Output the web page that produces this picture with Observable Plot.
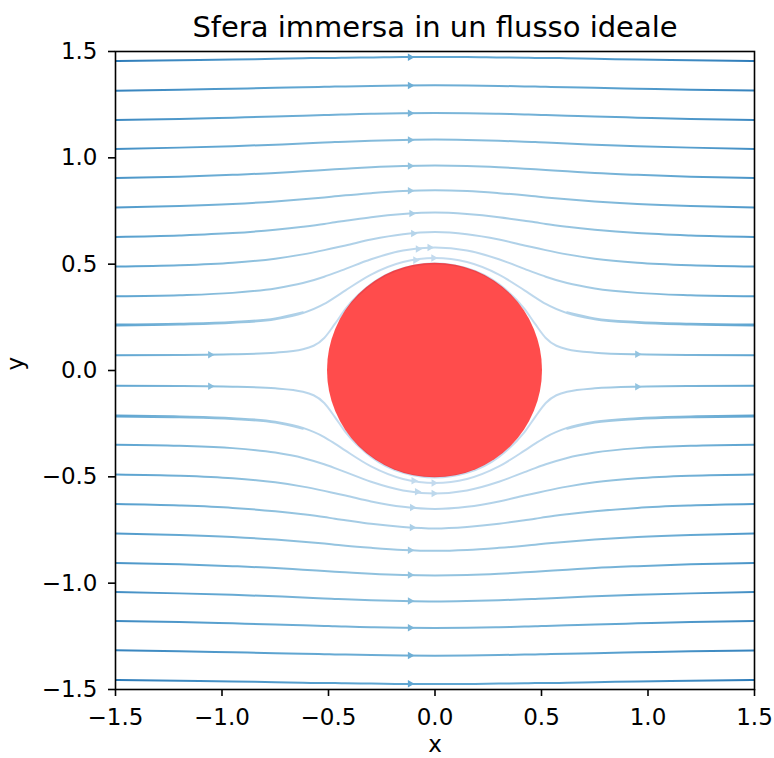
<!DOCTYPE html>
<html><head><meta charset="utf-8">
<script src="https://cdn.jsdelivr.net/npm/d3@7"></script>
<script src="https://cdn.jsdelivr.net/npm/@observablehq/plot@0.6"></script>
<style>html,body{margin:0;padding:0;background:#fff}svg{display:block}</style>
</head><body><div id="chart"></div>
<script>
// ---- data ----
const titleText = "Sfera immersa in un flusso ideale";
const xLabel = "x", yLabel = "y";
const tickValues = [-1.5, -1, -0.5, 0, 0.5, 1, 1.5];
const tickLabels = ["\u22121.5", "\u22121.0", "\u22120.5", "0.0", "0.5", "1.0", "1.5"];

// x positions where each streamline's height was read
const xKnots = [-1.5,-1.2,-0.95,-0.75,-0.62,-0.52,-0.47,-0.42,-0.3,-0.15,0,0.15,0.3,0.42,0.47,0.52,0.62,0.75,0.95,1.2,1.5];

// upper streamlines (y at each knot)
const streamTop = [
  [1.455,1.459,1.462,1.466,1.468,1.470,1.470,1.471,1.472,1.474,1.474,1.474,1.472,1.471,1.470,1.470,1.468,1.466,1.462,1.459,1.455],
  [1.316,1.320,1.325,1.329,1.332,1.334,1.335,1.336,1.338,1.340,1.341,1.340,1.338,1.336,1.335,1.334,1.332,1.329,1.325,1.320,1.316],
  [1.178,1.183,1.189,1.194,1.198,1.201,1.203,1.204,1.207,1.210,1.211,1.210,1.207,1.204,1.203,1.201,1.198,1.194,1.189,1.183,1.178],
  [1.042,1.048,1.055,1.062,1.067,1.072,1.074,1.076,1.080,1.084,1.086,1.084,1.080,1.076,1.074,1.072,1.067,1.062,1.055,1.048,1.042],
  [0.905,0.911,0.920,0.929,0.937,0.943,0.946,0.949,0.956,0.962,0.964,0.962,0.956,0.949,0.946,0.943,0.937,0.929,0.920,0.911,0.905],
  [0.766,0.773,0.783,0.795,0.805,0.814,0.819,0.824,0.834,0.844,0.848,0.844,0.834,0.824,0.819,0.814,0.805,0.795,0.783,0.773,0.766],
  [0.628,0.635,0.646,0.662,0.676,0.689,0.697,0.704,0.721,0.736,0.743,0.736,0.721,0.704,0.697,0.689,0.676,0.662,0.646,0.635,0.628],
  [0.489,0.495,0.507,0.526,0.546,0.566,0.577,0.588,0.616,0.641,0.651,0.641,0.616,0.588,0.577,0.566,0.546,0.526,0.507,0.495,0.489],
  [0.349,0.354,0.365,0.386,0.411,0.441,0.459,0.478,0.523,0.564,0.578,0.564,0.523,0.478,0.459,0.441,0.411,0.386,0.365,0.354,0.349],
  [0.212,0.216,0.224,0.241,0.270,0.313,0.344,0.377,0.451,0.510,0.529,0.510,0.451,0.377,0.344,0.313,0.270,0.241,0.224,0.216,0.212],
  [0.072,0.073,0.076,0.084,0.100,0.153,0.219,0.290,0.406,0.481,0.503,0.481,0.406,0.290,0.219,0.153,0.100,0.084,0.076,0.073,0.072]
];

// lower streamlines (y at each knot)
const streamBottom = [
  [-1.455,-1.459,-1.462,-1.466,-1.468,-1.470,-1.470,-1.471,-1.472,-1.474,-1.474,-1.474,-1.472,-1.471,-1.470,-1.470,-1.468,-1.466,-1.462,-1.459,-1.455],
  [-1.316,-1.320,-1.325,-1.329,-1.332,-1.334,-1.335,-1.336,-1.338,-1.340,-1.341,-1.340,-1.338,-1.336,-1.335,-1.334,-1.332,-1.329,-1.325,-1.320,-1.316],
  [-1.178,-1.183,-1.189,-1.194,-1.198,-1.201,-1.203,-1.204,-1.207,-1.210,-1.211,-1.210,-1.207,-1.204,-1.203,-1.201,-1.198,-1.194,-1.189,-1.183,-1.178],
  [-1.042,-1.048,-1.055,-1.062,-1.067,-1.072,-1.074,-1.076,-1.080,-1.084,-1.086,-1.084,-1.080,-1.076,-1.074,-1.072,-1.067,-1.062,-1.055,-1.048,-1.042],
  [-0.905,-0.911,-0.920,-0.929,-0.937,-0.943,-0.946,-0.949,-0.956,-0.962,-0.964,-0.962,-0.956,-0.949,-0.946,-0.943,-0.937,-0.929,-0.920,-0.911,-0.905],
  [-0.766,-0.773,-0.783,-0.795,-0.805,-0.814,-0.819,-0.824,-0.834,-0.844,-0.848,-0.844,-0.834,-0.824,-0.819,-0.814,-0.805,-0.795,-0.783,-0.773,-0.766],
  [-0.628,-0.635,-0.646,-0.662,-0.676,-0.689,-0.697,-0.704,-0.721,-0.736,-0.743,-0.736,-0.721,-0.704,-0.697,-0.689,-0.676,-0.662,-0.646,-0.635,-0.628],
  [-0.489,-0.495,-0.507,-0.526,-0.546,-0.566,-0.577,-0.588,-0.616,-0.641,-0.651,-0.641,-0.616,-0.588,-0.577,-0.566,-0.546,-0.526,-0.507,-0.495,-0.489],
  [-0.349,-0.354,-0.365,-0.386,-0.411,-0.441,-0.459,-0.478,-0.523,-0.564,-0.578,-0.564,-0.523,-0.478,-0.459,-0.441,-0.411,-0.386,-0.365,-0.354,-0.349],
  [-0.212,-0.216,-0.224,-0.241,-0.270,-0.313,-0.344,-0.377,-0.451,-0.510,-0.529,-0.510,-0.451,-0.377,-0.344,-0.313,-0.270,-0.241,-0.224,-0.216,-0.212],
  [-0.072,-0.073,-0.076,-0.084,-0.100,-0.153,-0.219,-0.290,-0.406,-0.481,-0.503,-0.481,-0.406,-0.290,-0.219,-0.153,-0.100,-0.084,-0.076,-0.073,-0.072]
];

// short overlapping trajectories (the doubled strands near y = ±0.21 at both edges)
const extraX = [
  [-1.5,-1.2,-0.95,-0.75,-0.62],
  [0.62,0.75,0.95,1.2,1.5],
  [-1.5,-1.2,-0.95,-0.75,-0.62],
  [0.62,0.75,0.95,1.2,1.5]
];
const extraY = [
  [0.216,0.220,0.228,0.245,0.274],
  [0.274,0.245,0.228,0.220,0.216],
  [-0.216,-0.220,-0.228,-0.245,-0.274],
  [-0.274,-0.245,-0.228,-0.220,-0.216]
];

// arrowheads (flow direction +x)
const arrowX = [-0.117,-0.117,-0.117,-0.117,-0.117,-0.117,-0.110,-0.102,-0.080,-0.025,-0.092,-0.007,-1.055,0.950,
                -0.117,-0.117,-0.117,-0.117,-0.117,-0.117,-0.108,-0.107,-0.084,-0.006,-0.100,-0.006,-1.055,0.950];
const arrowY = [1.473,1.340,1.210,1.084,0.962,0.845,0.738,0.644,0.571,0.578,0.519,0.529,0.074,0.076,
                -1.473,-1.340,-1.210,-1.084,-0.962,-0.845,-0.738,-0.644,-0.570,-0.578,-0.518,-0.529,-0.074,-0.076];

// sphere
const sphereCenter = [0, 0];
const sphereRadius = 0.5;

// colour of streamlines vs distance from sphere centre (Blues map)
const shadeR = [0.5, 1.0, 1.5, 2.12];
const shadeT = [0.24, 0.41, 0.54, 0.72];

// ---- build tables ----
const streamRows = [];
[...streamTop, ...streamBottom].forEach((ys, i) =>
  ys.forEach((y, j) => streamRows.push({id: i, x: xKnots[j], y})));
extraX.forEach((xs, i) =>
  xs.forEach((x, j) => streamRows.push({id: 100 + i, x, y: extraY[i][j]})));
const arrows = arrowX.map((x, i) => ({x, y: arrowY[i], d: Math.hypot(x, arrowY[i])}));
const sphere = [{cx: sphereCenter[0], cy: sphereCenter[1], r: sphereRadius}];

const FONT = 23;
const svg = Plot.plot({
  width: 774, height: 758,
  marginLeft: 115, marginRight: 20, marginTop: 51, marginBottom: 69,
  style: {fontFamily: "DejaVu Sans", fontSize: FONT + "px", background: "#fff", color: "#000"},
  x: {domain: [-1.5, 1.5]},
  y: {domain: [-1.5, 1.5]},
  color: {type: "linear", domain: shadeR, range: shadeT.map(d3.interpolateBlues)},
  marks: [
    Plot.line(streamRows, {x: "x", y: "y", z: "id", curve: "monotone-x",
      stroke: "url(#streamGrad)", strokeWidth: 2, clip: true}),
    Plot.dot(arrows, {x: "x", y: "y", symbol: "triangle", r: 2.8, rotate: 90,
      fill: "d", stroke: "none"}),
    Plot.rect(sphere, {x1: d => d.cx - d.r, x2: d => d.cx + d.r,
      y1: d => d.cy - d.r, y2: d => d.cy + d.r, rx: 1000,
      fill: "red", fillOpacity: 0.7, inset: -1}),
    Plot.frame({stroke: "#000", strokeWidth: 1.6}),
    Plot.axisX(tickValues, {anchor: "bottom", tickSize: 7, tickPadding: 12.5,
      tickFormat: d => tickLabels[tickValues.indexOf(d)], fontSize: FONT,
      strokeWidth: 1.6, label: null}),
    Plot.axisY(tickValues, {anchor: "left", tickSize: 7, tickPadding: 11,
      tickFormat: d => tickLabels[tickValues.indexOf(d)], fontSize: FONT,
      strokeWidth: 1.6, label: null}),
    Plot.text([titleText], {frameAnchor: "top", lineAnchor: "middle", dy: -23.6, fontSize: 29}),
    Plot.text([xLabel], {frameAnchor: "bottom", lineAnchor: "middle", dy: 55.5, fontSize: FONT}),
    Plot.text([yLabel], {frameAnchor: "left", lineAnchor: "middle", dx: -100, rotate: -90, fontSize: FONT})
  ]
});

// radial gradient (distance from the sphere centre) built from the plot's scales
const sx = svg.scale("x"), sy = svg.scale("y"), sc = svg.scale("color");
const ns = "http://www.w3.org/2000/svg";
const maxR = 2.2;
const pxPerUnit = sx.apply(1) - sx.apply(0);
const defs = document.createElementNS(ns, "defs");
const grad = document.createElementNS(ns, "radialGradient");
grad.setAttribute("id", "streamGrad");
grad.setAttribute("gradientUnits", "userSpaceOnUse");
grad.setAttribute("cx", sx.apply(0));
grad.setAttribute("cy", sy.apply(0));
grad.setAttribute("r", pxPerUnit * maxR);
shadeR.forEach(r => {
  const s = document.createElementNS(ns, "stop");
  s.setAttribute("offset", r / maxR);
  s.setAttribute("stop-color", sc.apply(r));
  grad.appendChild(s);
});
defs.appendChild(grad);
svg.insertBefore(defs, svg.firstChild);
document.getElementById("chart").appendChild(svg);
</script></body></html>
